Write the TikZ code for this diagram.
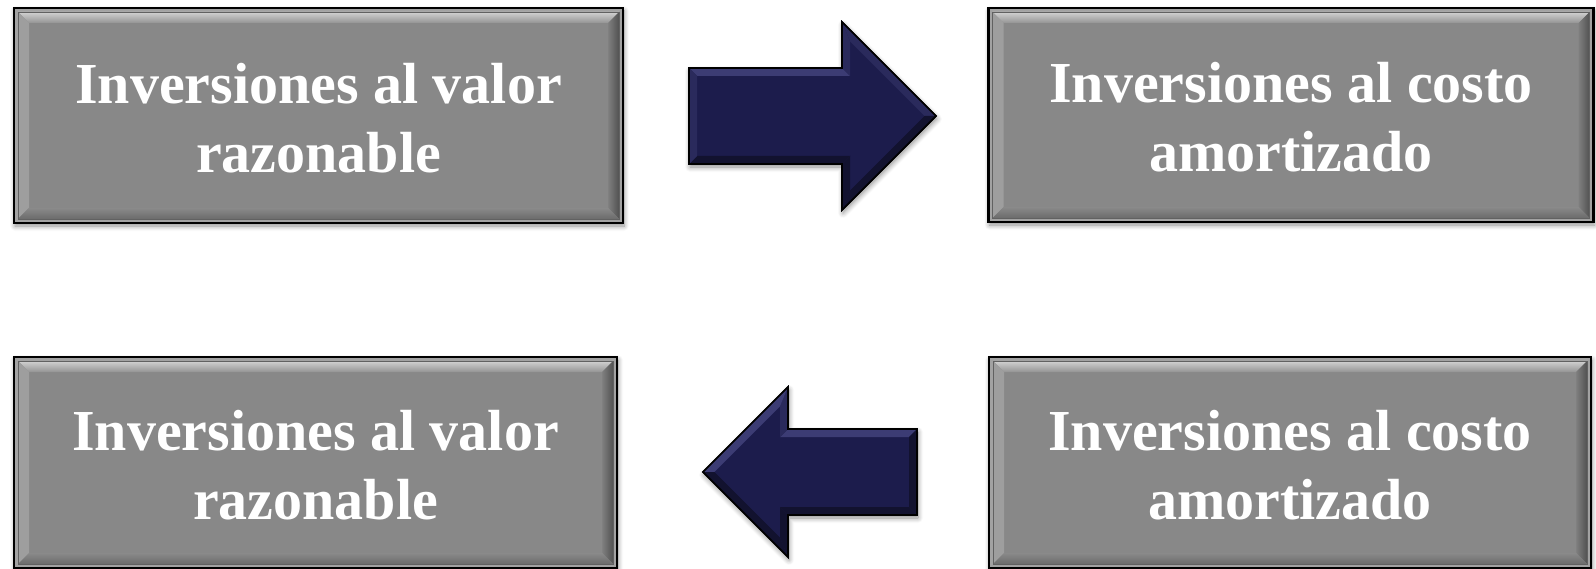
\documentclass[tikz,border=0pt]{standalone}
\usepackage{fontspec}
\setmainfont{Liberation Serif}
\usetikzlibrary{calc,shadows.blur}
\definecolor{boxgray}{HTML}{888888}
\definecolor{framegray}{HTML}{A2A2A2}
\definecolor{navy}{HTML}{1C1C4C}
\definecolor{navylight}{HTML}{3C3C74}
\definecolor{navymid}{HTML}{2A2A5C}
\definecolor{navydark}{HTML}{12122F}
\tikzset{
  boxgeom/.style={inner sep=0pt, outer sep=0pt},
  btext/.style={inner sep=0pt, text=white, align=center, yshift=-2.5pt,
    font=\bfseries\fontsize{58}{69}\selectfont},
  softshadow/.style={blur shadow={shadow xshift=1pt, shadow yshift=-3pt,
    shadow blur radius=5pt, shadow blur steps=8, shadow opacity=45}},
  arrowfill/.style={fill=navy, draw=black, line width=1.6pt, line join=miter},
}
\newcommand\bevelbox[1]{%
    \fill[framegray, softshadow] (#1.north west) rectangle (#1.south east);
    \fill[boxgray] ($(#1.north west)+(4,4)$) rectangle ($(#1.south east)+(-4,-4)$);
    \shade[top color=black!18, bottom color=black!42]
      ($(#1.north west)+(4,4)$) -- ($(#1.north east)+(-4,4)$) --
      ($(#1.north east)+(-15,15)$) -- ($(#1.north west)+(15,15)$) -- cycle;
    \fill[black!38]
      ($(#1.north west)+(4,4)$) -- ($(#1.north west)+(15,15)$) --
      ($(#1.south west)+(15,-15)$) -- ($(#1.south west)+(4,-4)$) -- cycle;
    \shade[left color=black!50, right color=black!68]
      ($(#1.north east)+(-4,4)$) -- ($(#1.north east)+(-15,15)$) --
      ($(#1.south east)+(-15,-15)$) -- ($(#1.south east)+(-4,-4)$) -- cycle;
    \shade[top color=black!46, bottom color=black!58]
      ($(#1.south west)+(4,-4)$) -- ($(#1.south west)+(15,-15)$) --
      ($(#1.south east)+(-15,-15)$) -- ($(#1.south east)+(-4,-4)$) -- cycle;
    \draw[black!62, line width=0.8pt] ($(#1.north west)+(4,4)$) rectangle ($(#1.south east)+(-4,-4)$);
    \draw[black, line width=2.5pt] (#1.north west) rectangle (#1.south east);
}
\begin{document}
\begin{tikzpicture}[x=1pt, y=-1pt]
\useasboundingbox (0,0) rectangle (1596,569);

% boxes
\path node[boxgeom, minimum width=609pt, minimum height=215pt] (vr1) at (318.5,115.5) {};
\path node[boxgeom, minimum width=605pt, minimum height=214pt] (ca1) at (1291,115) {};
\path node[boxgeom, minimum width=603pt, minimum height=211pt] (vr2) at (315.5,462.5) {};
\path node[boxgeom, minimum width=602pt, minimum height=211pt] (ca2) at (1290,462.5) {};
\bevelbox{vr1}
\bevelbox{ca1}
\bevelbox{vr2}
\bevelbox{ca2}
\node[btext] (vr1t) at (vr1) {Inversiones al valor\\razonable};
\node[btext] (ca1t) at (ca1) {Inversiones al costo\\amortizado};
\node[btext] (vr2t) at (vr2) {Inversiones al valor\\razonable};
\node[btext] (ca2t) at (ca2) {Inversiones al costo\\amortizado};

% top arrow (right)
\coordinate (ta) at (689,68);  \coordinate (tb) at (842,68);
\coordinate (tc) at (842,22);  \coordinate (td) at (936,116);
\coordinate (te) at (842,210); \coordinate (tf) at (842,164);
\coordinate (tg) at (689,164);
\coordinate (ta') at (697,76);  \coordinate (tb') at (850,76);
\coordinate (tc') at (850,41.3); \coordinate (td') at (924.7,116);
\coordinate (te') at (850,190.7); \coordinate (tf') at (850,156);
\coordinate (tg') at (697,156);
\path[arrowfill, softshadow] (ta) -- (tb) -- (tc) -- (td) -- (te) -- (tf) -- (tg) -- cycle;
\fill[navylight] (ta) -- (tb) -- (tb') -- (ta') -- cycle;
\fill[navymid] (tb) -- (tc) -- (tc') -- (tb') -- cycle;
\fill[navymid] (tc) -- (td) -- (td') -- (tc') -- cycle;
\fill[navydark] (td) -- (te) -- (te') -- (td') -- cycle;
\fill[navydark] (te) -- (tf) -- (tf') -- (te') -- cycle;
\fill[navydark] (tf) -- (tg) -- (tg') -- (tf') -- cycle;
\fill[navymid] (tg) -- (ta) -- (ta') -- (tg') -- cycle;
\draw[black, line width=1.6pt, line join=miter] (ta) -- (tb) -- (tc) -- (td) -- (te) -- (tf) -- (tg) -- cycle;

% bottom arrow (left)
\coordinate (ba) at (917,429);  \coordinate (bb) at (788,429);
\coordinate (bc) at (788,387);  \coordinate (bd) at (703,472);
\coordinate (be) at (788,557);  \coordinate (bf) at (788,515);
\coordinate (bg) at (917,515);
\coordinate (ba') at (909,437);  \coordinate (bb') at (780,437);
\coordinate (bc') at (780,406.3); \coordinate (bd') at (714.3,472);
\coordinate (be') at (780,537.7); \coordinate (bf') at (780,507);
\coordinate (bg') at (909,507);
\path[arrowfill, softshadow] (ba) -- (bb) -- (bc) -- (bd) -- (be) -- (bf) -- (bg) -- cycle;
\fill[navylight] (ba) -- (bb) -- (bb') -- (ba') -- cycle;
\fill[navymid] (bb) -- (bc) -- (bc') -- (bb') -- cycle;
\fill[navylight] (bc) -- (bd) -- (bd') -- (bc') -- cycle;
\fill[navydark] (bd) -- (be) -- (be') -- (bd') -- cycle;
\fill[navydark] (be) -- (bf) -- (bf') -- (be') -- cycle;
\fill[navydark] (bf) -- (bg) -- (bg') -- (bf') -- cycle;
\fill[navydark] (bg) -- (ba) -- (ba') -- (bg') -- cycle;
\draw[black, line width=1.6pt, line join=miter] (ba) -- (bb) -- (bc) -- (bd) -- (be) -- (bf) -- (bg) -- cycle;
\end{tikzpicture}
\end{document}
